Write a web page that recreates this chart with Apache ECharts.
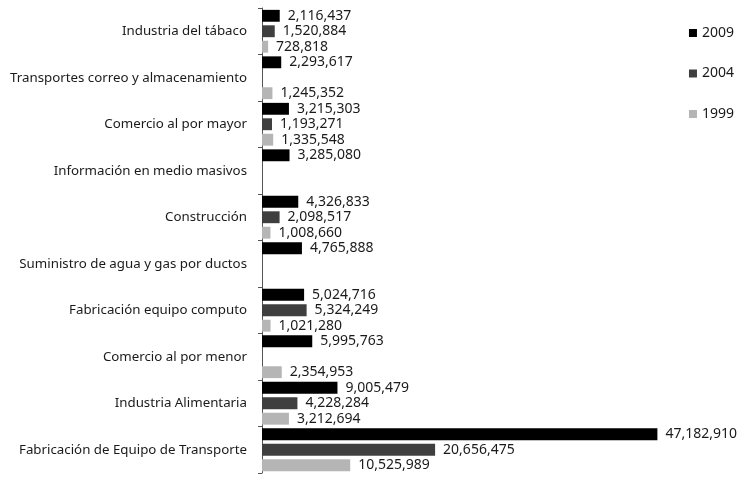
<!DOCTYPE html>
<html>
<head>
<meta charset="utf-8">
<script src="https://cdn.jsdelivr.net/npm/echarts@6/dist/echarts.min.js"></script>
<style>
  html, body { margin: 0; padding: 0; background: #fff; }
  #chart { width: 743px; height: 478px; }
</style>
</head>
<body>
<div id="chart"></div>
<script>
// categorias (de arriba a abajo)
const categorias = [
  'Industria del tábaco',
  'Transportes correo y almacenamiento',
  'Comercio al por mayor',
  'Información en medio masivos',
  'Construcción',
  'Suministro de agua y gas por ductos',
  'Fabricación equipo computo',
  'Comercio al por menor',
  'Industria Alimentaria',
  'Fabricación de Equipo de Transporte'
];
const valores2009 = [2116437, 2293617, 3215303, 3285080, 4326833, 4765888, 5024716, 5995763, 9005479, 47182910];
const valores2004 = [1520884, null, 1193271, null, 2098517, null, 5324249, null, 4228284, 20656475];
const valores1999 = [728818, 1245352, 1335548, null, 1008660, null, 1021280, 2354953, 3212694, 10525989];

const fontFam = '"Noto Sans", sans-serif';

const chart = echarts.init(document.getElementById('chart'));

function serie(name, data, color) {
  return {
    name: name,
    type: 'bar',
    data: data,
    barGap: '30%',
    barCategoryGap: '8%',
    itemStyle: { color: color },
    label: {
      show: true,
      position: 'right',
      distance: 8,
      color: '#1a1a1a',
      fontFamily: fontFam,
      fontSize: 14,
      formatter: p => p.value == null ? '' : p.value.toLocaleString('en-US')
    }
  };
}

chart.setOption({
  animation: false,
  legend: {
    orient: 'vertical',
    right: 4,
    top: 21,
    icon: 'rect',
    itemWidth: 8,
    itemHeight: 8,
    itemGap: 26.5,
    textStyle: { fontFamily: fontFam, fontSize: 14, color: '#1a1a1a' },
    data: ['2009', '2004', '1999']
  },
  grid: { left: 262, right: 62, top: 8, bottom: 5 },
  xAxis: {
    type: 'value',
    min: 0,
    max: 50000000,
    show: false
  },
  yAxis: {
    type: 'category',
    inverse: true,
    data: categorias,
    axisLine: { lineStyle: { color: '#555', width: 1 } },
    axisTick: { show: true, inside: false, length: 4, lineStyle: { color: '#555' } },
    axisLabel: { margin: 15, fontFamily: fontFam, fontSize: 13.3, color: '#1a1a1a' }
  },
  series: [
    serie('2009', valores2009, '#000000'),
    serie('2004', valores2004, '#3f3f3f'),
    serie('1999', valores1999, '#b5b5b5')
  ]
});
</script>
</body>
</html>
